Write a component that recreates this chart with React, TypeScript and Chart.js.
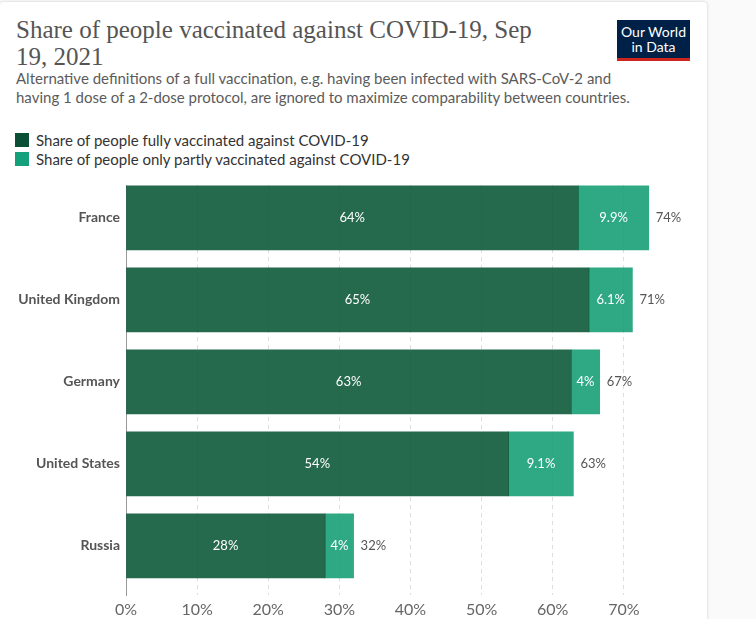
import React, { useRef, useEffect } from 'react';
import { Chart, registerables } from 'chart.js';

Chart.register(...registerables);

// data (Sep 19, 2021)
const countries = ['France', 'United Kingdom', 'Germany', 'United States', 'Russia'];
const fullyVaccinated = [63.6, 65.1, 62.6, 53.8, 28.0];
const partlyVaccinated = [9.9, 6.1, 4.0, 9.1, 4.0];
const xTicks = [0, 10, 20, 30, 40, 50, 60, 70];

const FULL_COLOR = '#0b4f35';
const PART_COLOR = '#14a07a';

const fmt = (v: number) => (v < 9.95 ? (Math.round(v * 10) / 10).toString().replace(/\.0$/, '') : Math.round(v).toString()) + '%';

// rows sit on a numeric y scale so bars can hug the top of their band like OWID does
const rows = (values: number[]) => values.map((v, i) => ({ x: v, y: i }));

const labelsPlugin = {
    id: 'barLabels',
    afterDatasetsDraw(chart: any) {
        const ctx = chart.ctx;
        const xScale = chart.scales.x;
        const yScale = chart.scales.y;
        ctx.save();
        ctx.font = '13px Lato';
        ctx.textBaseline = 'middle';
        countries.forEach((_, i) => {
            const y = yScale.getPixelForValue(i);
            const full = fullyVaccinated[i];
            const part = partlyVaccinated[i];
            const x0 = xScale.getPixelForValue(0);
            const x1 = xScale.getPixelForValue(full);
            const x2 = xScale.getPixelForValue(full + part);
            ctx.fillStyle = '#ffffff';
            ctx.textAlign = 'center';
            ctx.fillText(fmt(full), (x0 + x1) / 2, y);
            ctx.fillText(fmt(part), (x1 + x2) / 2, y);
            ctx.fillStyle = '#555555';
            ctx.textAlign = 'left';
            ctx.fillText(Math.round(full + part) + '%', x2 + 7, y);
        });
        ctx.restore();
    },
};

const VaccinationChart = () => {
    const chartRef = useRef<HTMLCanvasElement>(null);
    const chartInstanceRef = useRef<Chart | null>(null);

    useEffect(() => {
        if (chartRef.current && !chartInstanceRef.current) {
            const context = chartRef.current.getContext('2d');
            if (context) {
                chartInstanceRef.current = new Chart(context, {
                    type: 'bar',
                    data: {
                        datasets: [
                            {
                                label: 'Share of people fully vaccinated against COVID-19',
                                data: rows(fullyVaccinated),
                                backgroundColor: 'rgba(0, 80, 47, 0.85)',
                                barThickness: 64,
                            },
                            {
                                label: 'Share of people only partly vaccinated against COVID-19',
                                data: rows(partlyVaccinated),
                                backgroundColor: 'rgba(10, 154, 109, 0.85)',
                                barThickness: 64,
                            },
                        ],
                    },
                    options: {
                        indexAxis: 'y',
                        animation: false,
                        responsive: false,
                        maintainAspectRatio: false,
                        layout: {
                            padding: { left: 0, right: 11, top: 15, bottom: 0 },
                        },
                        scales: {
                            x: {
                                type: 'linear',
                                stacked: true,
                                min: 0,
                                max: 80,
                                afterFit: (scale: any) => {
                                    scale.height = 24;
                                },
                                afterBuildTicks: (scale: any) => {
                                    scale.ticks = xTicks.map((v) => ({ value: v }));
                                },
                                grid: {
                                    drawTicks: false,
                                    color: '#dddddd',
                                    lineWidth: 1,
                                },
                                border: { display: false, dash: [4, 4] },
                                ticks: {
                                    padding: 5,
                                    color: '#666666',
                                    font: { family: 'Lato', size: 16 },
                                    callback: (v: any) => v + '%',
                                },
                            },
                            y: {
                                type: 'linear',
                                stacked: true,
                                reverse: true,
                                min: -0.4,
                                max: 4.6,
                                offset: false,
                                afterFit: (scale: any) => {
                                    scale.width = 126;
                                },
                                afterBuildTicks: (scale: any) => {
                                    scale.ticks = countries.map((_, i) => ({ value: i }));
                                },
                                grid: { display: false, drawTicks: false },
                                border: { display: true, color: '#999999' },
                                ticks: {
                                    padding: 6,
                                    color: '#555555',
                                    font: { family: 'Lato', size: 14, weight: 'bold' },
                                    callback: (v: any) => countries[Number(v)] ?? '',
                                },
                            },
                        },
                        plugins: {
                            legend: { display: false },
                            tooltip: { enabled: false },
                        },
                    },
                    plugins: [labelsPlugin],
                } as any);
            }
        }
        return () => {
            if (chartInstanceRef.current) {
                chartInstanceRef.current.destroy();
                chartInstanceRef.current = null;
            }
        };
    }, []);

    return <canvas ref={chartRef} width={706} height={449} style={{ position: 'absolute', left: 0, top: 170, width: 706, height: 449 }} />;
};

const legendItem = (color: string, text: string, top: number) => (
    <div style={{ position: 'absolute', left: 15, top, height: 14, display: 'flex', alignItems: 'center' }}>
        <div style={{ width: 14, height: 14, background: color, marginRight: 7, flex: 'none' }} />
        <span style={{ fontSize: 15, lineHeight: '14px', color: '#333', whiteSpace: 'nowrap' }}>{text}</span>
    </div>
);

export default function App() {
    return (
        <div style={{ position: 'fixed', left: 0, top: 0, width: 756, height: 619, background: '#fafafa', overflow: 'hidden', fontFamily: 'Lato, sans-serif' }}>
            <div style={{ position: 'absolute', left: 0, top: 2, width: 707, height: 640, background: '#fff', borderRadius: 3, boxShadow: '0 0 3px rgba(0,0,0,0.2)' }}>
                <div style={{ position: 'absolute', left: 16, top: 14, fontFamily: '"Liberation Serif", serif', fontSize: 25, lineHeight: '27px', color: '#555' }}>
                    Share of people vaccinated against COVID-19, Sep
                    <br />
                    19, 2021
                </div>
                <div style={{ position: 'absolute', left: 16, top: 67, fontSize: 15, lineHeight: '19px', color: '#5b5b5b', whiteSpace: 'nowrap' }}>
                    Alternative definitions of a full vaccination, e.g. having been infected with SARS-CoV-2 and
                    <br />
                    having 1 dose of a 2-dose protocol, are ignored to maximize comparability between countries.
                </div>
                <div style={{ position: 'absolute', left: 617, top: 18, width: 73, height: 41, background: '#002147', borderBottom: '3px solid #ce261e', color: '#fff', fontSize: 14, lineHeight: '15px', textAlign: 'center', paddingTop: 4, boxSizing: 'border-box' }}>
                    Our World
                    <br />
                    in Data
                </div>
                {legendItem(FULL_COLOR, 'Share of people fully vaccinated against COVID-19', 131)}
                {legendItem(PART_COLOR, 'Share of people only partly vaccinated against COVID-19', 150)}
            </div>
            <VaccinationChart />
        </div>
    );
}
